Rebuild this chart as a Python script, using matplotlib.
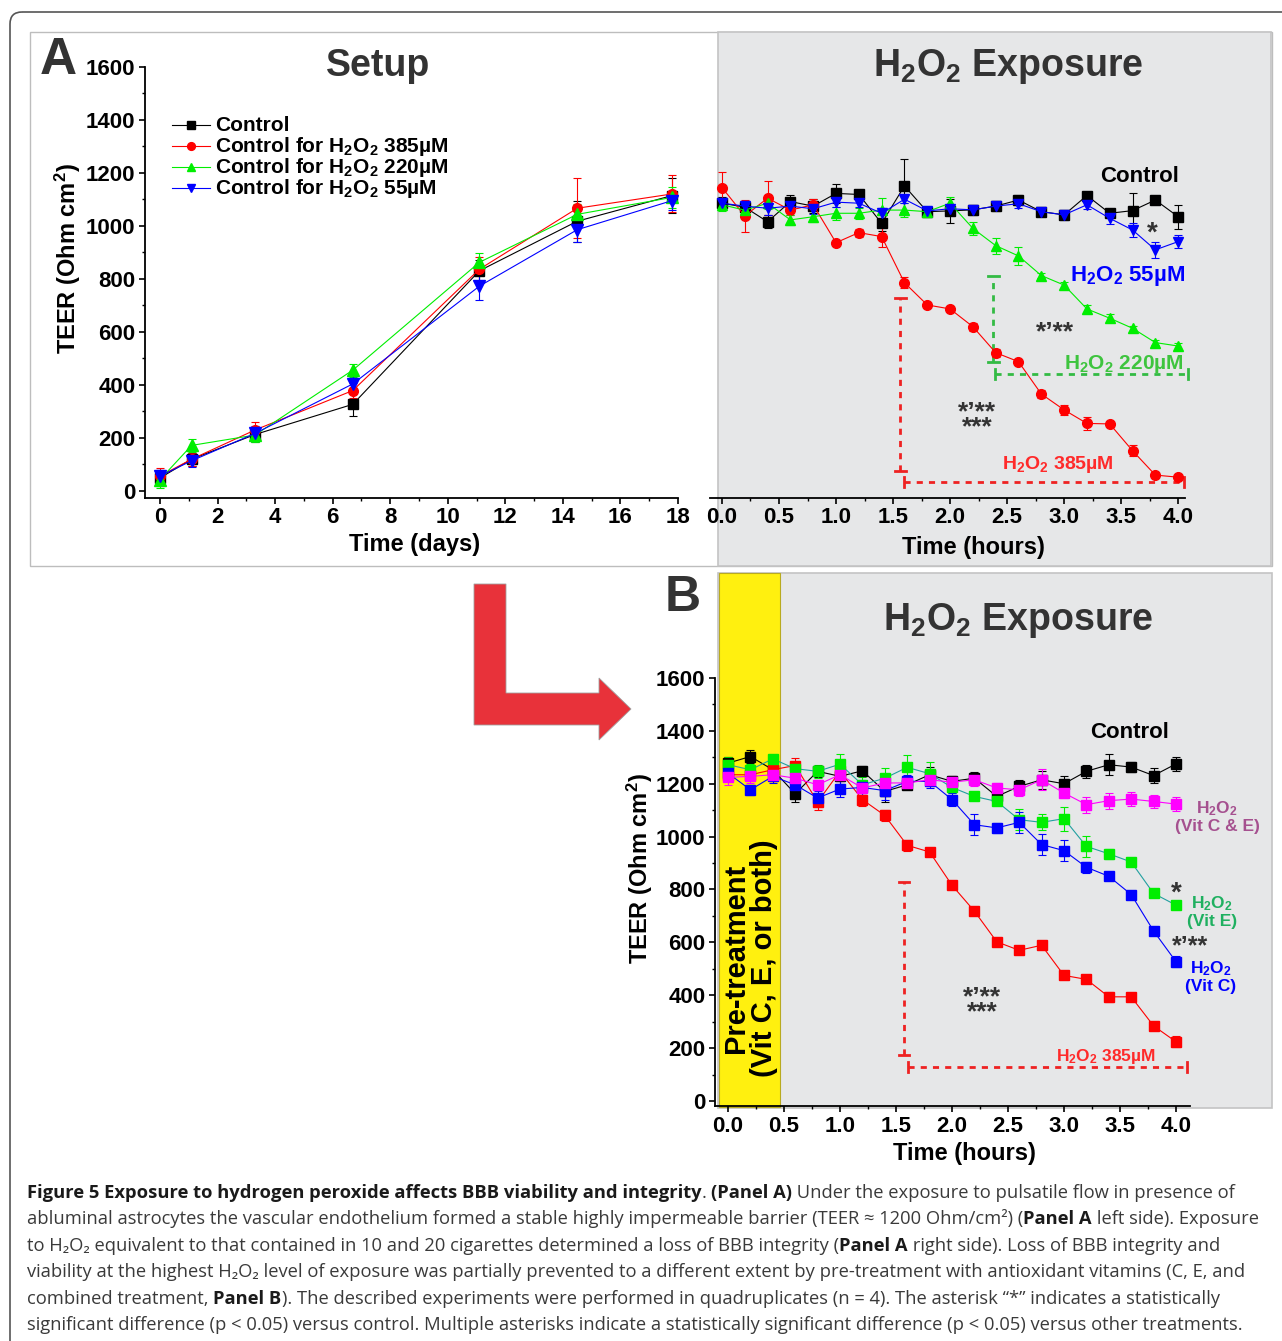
import numpy as np
import matplotlib
matplotlib.use('Agg')
import matplotlib.pyplot as plt
from matplotlib import font_manager
from matplotlib.patches import Rectangle, Polygon, FancyBboxPatch
from matplotlib.lines import Line2D
from matplotlib.transforms import Affine2D
from matplotlib.ticker import MultipleLocator, FormatStrFormatter

W, H = 1282, 1341
DPI = 100

# ---------------- data: panel A, setup (days) ----------------
setup_days = [0, 1.1, 3.3, 6.7, 11.1, 14.5, 17.8]
setup_control = [49, 120, 213, 327, 831, 1018, 1115]
setup_c385 = [56, 120, 230, 379, 837, 1067, 1121]
setup_c220 = [43, 172, 211, 456, 863, 1044, 1108]
setup_c55 = [56, 114, 217, 404, 773, 986, 1096]
setup_control_err = [30, 25, 30, 45, 40, 78, 67]
setup_c385_err = [30, 25, 30, 30, 45, 113, 70]
setup_c220_err = [30, 25, 25, 25, 35, 40, 40]
setup_c55_err = [25, 25, 30, 30, 52, 45, 35]
setup_labels = ['Control', 'Control for H$_2$O$_2$ 385µM',
                'Control for H$_2$O$_2$ 220µM', 'Control for H$_2$O$_2$ 55µM']

# ---------------- data: panel A, exposure (hours) ----------------
hours = [0.0, 0.2, 0.4, 0.6, 0.8, 1.0, 1.2, 1.4, 1.6, 1.8, 2.0,
         2.2, 2.4, 2.6, 2.8, 3.0, 3.2, 3.4, 3.6, 3.8, 4.0]
expA_control = [1086, 1071, 1016, 1092, 1075, 1123, 1119, 1010, 1151, 1054, 1057,
                1061, 1075, 1098, 1054, 1042, 1115, 1048, 1058, 1098, 1035]
expA_385 = [1145, 1038, 1105, 1060, 1080, 937, 975, 960, 786, 702, 687,
            620, 522, 488, 366, 306, 255, 253, 152, 60, 52]
expA_220 = [1080, 1060, 1086, 1023, 1035, 1048, 1048, 1060, 1060, 1054, 1086,
            991, 926, 887, 813, 777, 687, 652, 614, 560, 547]
expA_55 = [1086, 1075, 1067, 1075, 1065, 1090, 1086, 1048, 1101, 1057, 1065,
           1061, 1075, 1084, 1054, 1042, 1080, 1029, 985, 910, 941]
expA_control_err = [25, 20, 25, 25, 25, 35, 15, 30, 100, 15, 45,
                    20, 20, 20, 15, 15, 15, 15, 65, 0, 45]
expA_385_err = [60, 60, 65, 20, 20, 0, 15, 40, 20, 0, 0,
                15, 15, 0, 15, 20, 25, 0, 20, 10, 0]
expA_220_err = [25, 20, 20, 20, 20, 25, 20, 45, 25, 20, 25,
                25, 30, 35, 10, 10, 15, 15, 10, 10, 10]
expA_55_err = [20, 20, 25, 20, 20, 20, 15, 20, 15, 15, 15,
               15, 15, 15, 15, 20, 15, 20, 25, 30, 25]

# ---------------- data: panel B, exposure with vitamins ----------------
expB_control = [1278, 1303, 1253, 1162, 1247, 1228, 1249, 1171, 1196, 1234, 1209,
                1221, 1152, 1190, 1215, 1200, 1247, 1272, 1263, 1231, 1275]
expB_385 = [1234, 1234, 1253, 1269, 1131, 1247, 1140, 1080, 967, 942, 816,
            718, 602, 570, 589, 475, 460, 394, 394, 284, 224]
expB_vitE = [1272, 1253, 1294, 1257, 1247, 1274, 1196, 1221, 1262, 1238, 1186,
             1152, 1133, 1064, 1054, 1068, 963, 935, 904, 785, 741]
expB_vitC = [1240, 1177, 1228, 1196, 1146, 1180, 1186, 1174, 1209, 1209, 1140,
             1045, 1033, 1054, 970, 947, 884, 850, 781, 643, 527]
expB_vitCE = [1224, 1228, 1234, 1221, 1196, 1234, 1184, 1203, 1203, 1215, 1206,
              1215, 1184, 1177, 1215, 1165, 1121, 1136, 1142, 1133, 1123]
expB_control_err = [25, 25, 20, 30, 20, 30, 20, 40, 15, 30, 20,
                    25, 20, 25, 35, 30, 25, 40, 20, 30, 25]
expB_385_err = [20, 20, 30, 30, 30, 25, 25, 20, 20, 10, 10,
                15, 10, 15, 15, 15, 15, 20, 10, 10, 20]
expB_vitE_err = [30, 20, 10, 20, 25, 40, 30, 40, 45, 45, 20,
                 15, 15, 40, 30, 45, 40, 20, 15, 10, 10]
expB_vitC_err = [25, 20, 25, 35, 25, 30, 30, 35, 25, 25, 25,
                 40, 20, 40, 40, 40, 20, 15, 15, 15, 20]
expB_vitCE_err = [30, 25, 25, 30, 20, 25, 20, 25, 20, 25, 25,
                  25, 20, 25, 40, 20, 30, 30, 25, 25, 25]

# ---------------- style ----------------
plt.rcParams['font.family'] = ['Liberation Sans', 'DejaVu Sans']
plt.rcParams['font.weight'] = 'bold'
plt.rcParams['axes.labelweight'] = 'bold'
plt.rcParams['mathtext.fontset'] = 'custom'
plt.rcParams['mathtext.rm'] = 'Liberation Sans:bold'
plt.rcParams['mathtext.it'] = 'Liberation Sans:bold'
plt.rcParams['mathtext.bf'] = 'Liberation Sans:bold'
plt.rcParams['mathtext.default'] = 'rm'

fig = plt.figure(figsize=(W / DPI, H / DPI), dpi=DPI)
fig.patch.set_facecolor('white')
PX = Affine2D().scale(1.0 / W, -1.0 / H).translate(0, 1) + fig.transFigure

GREY = '#e6e7e8'
EDGE = '#c4c4c4'
DARK = '#333333'

# ---------------- background decorations ----------------
fig.add_artist(FancyBboxPatch((10, 12), 1500, 1500, boxstyle='round,pad=0,rounding_size=12',
                              transform=PX, facecolor='none', edgecolor='#555555', lw=1.2, zorder=-10))
fig.add_artist(Rectangle((30, 32), 1242, 534, transform=PX, facecolor='white',
                         edgecolor='#bdbdbd', lw=1.0, zorder=-9))
fig.add_artist(Rectangle((718, 32), 553, 534, transform=PX, facecolor=GREY,
                         edgecolor=EDGE, lw=1.2, zorder=-8))
fig.add_artist(Rectangle((718, 573), 554, 535, transform=PX, facecolor=GREY,
                         edgecolor=EDGE, lw=1.2, zorder=-8))
fig.add_artist(Rectangle((719, 573), 61, 534, transform=PX, facecolor='#fff00f',
                         edgecolor='#b8aa20', lw=0.8, zorder=-7))
arrow = [(474, 584), (506, 584), (506, 693), (599, 693), (599, 678), (631, 709),
         (599, 740), (599, 725), (474, 725)]
fig.add_artist(Polygon(arrow, closed=True, transform=PX, facecolor='#e8323a',
                       edgecolor='#a0a0a0', lw=0.6, zorder=-6))


def add_axes_px(left, top, right, bottom):
    return fig.add_axes([left / W, 1 - bottom / H, (right - left) / W, (bottom - top) / H])


def style(ax):
    ax.set_facecolor('none')
    for s in ['top', 'right']:
        ax.spines[s].set_visible(False)
    for s in ['left', 'bottom']:
        ax.spines[s].set_linewidth(1.3)
    ax.tick_params(which='major', direction='out', length=4.5, width=1.2, labelsize=16, pad=2.5)
    ax.tick_params(which='minor', direction='out', length=2.5, width=1.0)


def series(ax, x, y, e, color, marker, ms, lc=None, z=3):
    ax.errorbar(x, y, yerr=e, color=lc or color, lw=0.8, marker=marker, ms=ms,
                mfc=color, mec=color, ecolor=color, elinewidth=0.8, capsize=3.2,
                capthick=0.8, zorder=z)


def txt(x, y, s, size=16, color='black', **kw):
    return fig.text(x / W, 1 - y / H, s, fontsize=size, color=color, ha=kw.pop('ha', 'center'),
                    va=kw.pop('va', 'center'), fontweight='bold', **kw)


# ---------------- Panel A left: Setup ----------------
axL = add_axes_px(145, 67, 678, 497.6)
style(axL)
axL.set_xlim(-0.52, 18.0)
axL.set_ylim(-25, 1600)
axL.set_xticks(range(0, 19, 2))
axL.xaxis.set_minor_locator(MultipleLocator(1))
axL.set_yticks(range(0, 1601, 200))
axL.yaxis.set_minor_locator(MultipleLocator(100))
setup_series = [(setup_control, setup_control_err, 'black', 's', 6.5),
                (setup_c385, setup_c385_err, '#ff0000', 'o', 7),
                (setup_c220, setup_c220_err, '#00ee00', '^', 8),
                (setup_c55, setup_c55_err, '#0000ff', 'v', 8)]
for yv, ev, c, m, ms in setup_series:
    series(axL, setup_days, yv, ev, c, m, ms)
axL.set_xlabel('Time (days)', fontsize=17)
axL.xaxis.label.set_va('center')
axL.xaxis.set_label_coords(0.505, -0.108)
axL.set_ylabel('TEER (Ohm cm$^2$)', fontsize=17)
axL.yaxis.label.set(va='center', ha='center')
axL.yaxis.set_label_coords(-0.1445, 0.556)

# manual legend
for i, ((yv, ev, c, m, ms), lab) in enumerate(zip(setup_series, setup_labels)):
    yy = 125 + 21 * i
    fig.add_artist(Line2D([172, 210], [yy, yy], transform=PX, color=c, lw=0.8))
    fig.add_artist(Line2D([191], [yy], transform=PX, color=c, marker=m, ms=ms * 0.8, lw=0))
    txt(215, yy + 6, lab, size=15, ha='left', va='baseline')

# ---------------- Panel A right: exposure ----------------
axR = add_axes_px(710, 67, 1185, 497.6)
style(axR)
axR.spines['left'].set_visible(False)
axR.set_yticks([])
axR.set_xlim(-0.105, 4.06)
axR.set_ylim(-25, 1600)
axR.set_xticks([0, 0.5, 1, 1.5, 2, 2.5, 3, 3.5, 4])
axR.xaxis.set_minor_locator(MultipleLocator(0.25))
axR.xaxis.set_major_formatter(FormatStrFormatter('%.1f'))
series(axR, hours, expA_control, expA_control_err, 'black', 's', 6.5)
series(axR, hours, expA_385, expA_385_err, '#ff0000', 'o', 7)
series(axR, hours, expA_220, expA_220_err, '#00ee00', '^', 7.5)
series(axR, hours, expA_55, expA_55_err, '#0000ff', 'v', 7.5)
axR.set_xlabel('Time (hours)', fontsize=17)
axR.xaxis.label.set_va('center')
axR.xaxis.set_label_coords(0.554, -0.117)


def bracket_v(ax, x, y0, y1, color, cw):
    ax.plot([x, x], [y0, y1], color=color, lw=2, ls=(0, (2.2, 2.2)), clip_on=False, zorder=2)
    for yy in (y0, y1):
        ax.plot([x - cw, x + cw], [yy, yy], color=color, lw=2, clip_on=False, zorder=2)


def bracket_h(ax, y, x0, x1, color, ch):
    ax.plot([x0, x1], [y, y], color=color, lw=2, ls=(0, (2.2, 2.2)), clip_on=False, zorder=2)
    for xx in (x0, x1):
        ax.plot([xx, xx], [y - ch, y + ch], color=color, lw=2, clip_on=False, zorder=2)


bracket_v(axR, 1.565, 77, 728, '#ee2222', 0.045)
bracket_h(axR, 34, 1.60, 4.05, '#ee2222', 20)
bracket_v(axR, 2.38, 487, 811, '#33bb44', 0.045)
bracket_h(axR, 441, 2.39, 4.09, '#33bb44', 20)

# ---------------- Panel B ----------------
axB = add_axes_px(715, 678, 1190, 1106)
style(axB)
axB.set_xlim(-0.116, 4.125)
axB.set_ylim(-19, 1600)
axB.set_xticks([0, 0.5, 1, 1.5, 2, 2.5, 3, 3.5, 4])
axB.xaxis.set_minor_locator(MultipleLocator(0.25))
axB.xaxis.set_major_formatter(FormatStrFormatter('%.1f'))
axB.set_yticks(range(0, 1601, 200))
axB.yaxis.set_minor_locator(MultipleLocator(100))
series(axB, hours, expB_control, expB_control_err, 'black', 's', 6.5)
series(axB, hours, expB_385, expB_385_err, '#ff0000', 's', 6.5)
series(axB, hours, expB_vitE, expB_vitE_err, '#00ee00', 's', 6.5, lc='#22a0a0')
series(axB, hours, expB_vitC, expB_vitC_err, '#0000ff', 's', 6.5)
series(axB, hours, expB_vitCE, expB_vitCE_err, '#ff00ff', 's', 6.5)
axB.set_xlabel('Time (hours)', fontsize=17)
axB.xaxis.label.set_va('center')
axB.xaxis.set_label_coords(0.526, -0.110)
axB.set_ylabel('TEER (Ohm cm$^2$)', fontsize=17)
axB.yaxis.label.set(va='center', ha='center')
axB.yaxis.set_label_coords(-0.158, 0.554)
bracket_v(axB, 1.571, 174, 828, '#ee2222', 0.045)
bracket_h(axB, 129, 1.61, 4.10, '#ee2222', 20)

# ---------------- titles & annotations ----------------
txt(58, 61, 'A', size=37, color=DARK)
txt(683, 598, 'B', size=36, color=DARK)
txt(378, 66, 'Setup', size=27, color=DARK)
txt(1008, 66, 'H$_2$O$_2$ Exposure', size=27, color=DARK)
txt(1018, 620, 'H$_2$O$_2$ Exposure', size=27, color=DARK)

txt(1140, 176, 'Control', size=16)
txt(1152, 234, '*', size=20, color=DARK)
txt(1128, 276, 'H$_2$O$_2$ 55µM', size=16, color='#0000ff')
txt(1055, 332, '*’**', size=19, color=DARK)
txt(1124, 364, 'H$_2$O$_2$ 220µM', size=15, color='#3ec43e')
txt(977, 420, '*’**\n***', size=19, color=DARK, linespacing=0.55)
txt(1058, 464, 'H$_2$O$_2$ 385µM', size=14, color='#ff2a2a')

txt(1130, 733, 'Control', size=16)
txt(1217, 817, 'H$_2$O$_2$\n(Vit C & E)', size=12.5, color='#a5508f', linespacing=1.1)
txt(1176, 894, '*', size=20, color=DARK)
txt(1212, 912, 'H$_2$O$_2$\n(Vit E)', size=12.5, color='#1fb060', linespacing=1.1)
txt(1190, 946, '*’**', size=18, color=DARK)
txt(1211, 977, 'H$_2$O$_2$\n(Vit C)', size=12.5, color='#0000ff', linespacing=1.1)
txt(982, 1005, '*’**\n***', size=19, color=DARK, linespacing=0.55)
txt(1106, 1056, 'H$_2$O$_2$ 385µM', size=12.5, color='#ff2a2a')
txt(750, 958, 'Pre-treatment\n(Vit C, E, or both)', size=21, rotation=90, linespacing=1.0)

# ---------------- caption ----------------
cap_kw = dict(family=['Open Sans', 'DejaVu Sans'])

caption = [
    [("Figure 5 Exposure to hydrogen peroxide affects BBB viability and integrity", True),
     (". ", False), ("(Panel A)", True),
     (" Under the exposure to pulsatile flow in presence of", False)],
    [("abluminal astrocytes the vascular endothelium formed a stable highly impermeable barrier "
      "(TEER ≈ 1200 Ohm/cm²) (", False), ("Panel A", True), (" left side). Exposure", False)],
    [("to H₂O₂ equivalent to that contained in 10 and 20 cigarettes determined a loss of BBB "
      "integrity (", False), ("Panel A", True), (" right side). Loss of BBB integrity and", False)],
    [("viability at the highest H₂O₂ level of exposure was partially prevented to a different "
      "extent by pre-treatment with antioxidant vitamins (C, E, and", False)],
    [("combined treatment, ", False), ("Panel B", True),
     ("). The described experiments were performed in quadruplicates (n = 4). The asterisk "
      "“*” indicates a statistically", False)],
    [("significant difference (p < 0.05) versus control. Multiple asterisks indicate a "
      "statistically significant difference (p < 0.05) versus other treatments.", False)],
]
line_targets = [1251, 1248, 1227, 1244, 1203, 1223]

fig.canvas.draw()
renderer = fig.canvas.get_renderer()


def seg_width(s, bold, size):
    t1 = fig.text(0, 0, '|' + s + '|', fontweight='bold' if bold else 'normal',
                  fontsize=size, **cap_kw)
    t2 = fig.text(0, 0, '||', fontweight='bold' if bold else 'normal',
                  fontsize=size, **cap_kw)
    w = t1.get_window_extent(renderer).width - t2.get_window_extent(renderer).width
    t1.remove()
    t2.remove()
    return w


scales = []
for segs, tw in zip(caption, line_targets):
    w = sum(seg_width(s, b, 10) for s, b in segs)
    scales.append(10 * tw / w)
cap_size = min(min(scales), 15)

line_y = [1193, 1219, 1246, 1272, 1299, 1325]
for segs, yc in zip(caption, line_y):
    x = 27
    for s, b in segs:
        fig.text(x / W, 1 - (yc + 5) / H, s,
                 fontweight='bold' if b else 'normal', fontsize=cap_size,
                 color='#1a1a1a' if b else '#3a3a3a', ha='left', va='baseline', **cap_kw)
        x += seg_width(s, b, cap_size)

fig.savefig('out.png', dpi=DPI)
